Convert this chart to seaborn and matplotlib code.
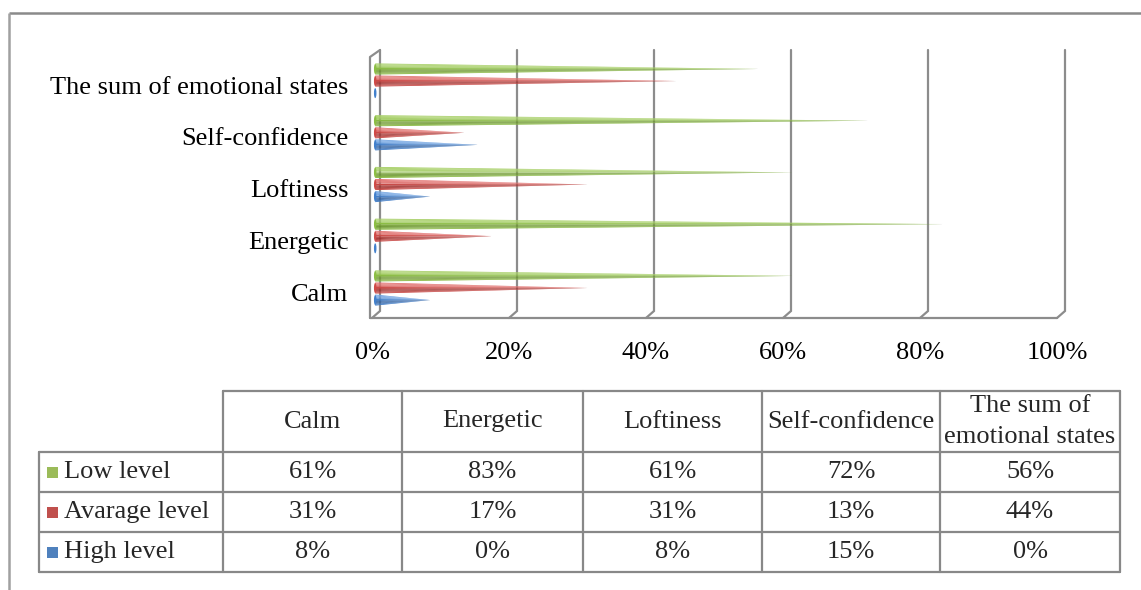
import textwrap

import matplotlib
matplotlib.use("Agg")
import matplotlib.pyplot as plt
import numpy as np
import pandas as pd
import seaborn as sns
from matplotlib.patches import Ellipse, Polygon, Rectangle

# ---- data -------------------------------------------------------------
categories = ["Calm", "Energetic", "Loftiness", "Self-confidence",
              "The sum of emotional states"]
levels = ["Low level", "Avarage level", "High level"]
low_level = [61, 83, 61, 72, 56]
average_level = [31, 17, 31, 13, 44]
high_level = [8, 0, 8, 15, 0]
x_ticks = [0, 20, 40, 60, 80, 100]

colors = {"Low level": "#9BBB59", "Avarage level": "#C0504D", "High level": "#4F81BD"}
cone_base = {"Low level": "#8CBE44", "Avarage level": "#CF4A47", "High level": "#4280CC"}
cone_light = {"Low level": "#A8D068", "Avarage level": "#E27270", "High level": "#6FA3E2"}
cone_dark = {"Low level": "#68922C", "Avarage level": "#9C2C2A", "High level": "#2A5A9A"}

series = {"Low level": low_level, "Avarage level": average_level, "High level": high_level}
df = pd.DataFrame(
    [(cat, lvl, series[lvl][i]) for lvl in levels for i, cat in enumerate(categories)],
    columns=["state", "level", "pct"],
)
df["share"] = df["pct"] / 100.0

# ---- style ------------------------------------------------------------
sns.set_theme(style="white")
plt.rcParams["font.family"] = ["Liberation Serif", "DejaVu Serif"]
FS = 19.0
GRID = "#8c8c8c"

W, H, DPI = 1141, 590, 100
fig = plt.figure(figsize=(W / DPI, H / DPI), dpi=DPI)
fig.patch.set_facecolor("white")

# chart area (pixel frame 370..1068 x 50..318)
ax = fig.add_axes([370 / W, 1 - 318 / H, 698 / W, 268 / H])
ax.set_facecolor("none")

sns.barplot(data=df, x="share", y="state", hue="level",
            order=categories[::-1], hue_order=levels,
            palette=colors, saturation=1, width=0.7, orient="h",
            legend=False, ax=ax)

x_lo, x_hi = -10 / 685, 688 / 685
y_top, y_bot = -0.60, 4.58
ax.set_xlim(x_lo, x_hi)
ax.set_ylim(y_bot, y_top)

# depth offset of the 3-D floor / front plane
dx, dy = -8 / 685, 7 / 51.75
y_back = y_bot - dy

# turn each bar into a shaded cone lying on its side
shade = [(0.00, "light"), (0.25, "light"), (0.45, "base"),
         (0.72, "dark"), (1.00, "base")]


def mix(c1, c2, t):
    a = np.array(matplotlib.colors.to_rgb(c1))
    b = np.array(matplotlib.colors.to_rgb(c2))
    return tuple(a + (b - a) * t)


def shade_color(lvl, t):
    pal = {"light": cone_light[lvl], "base": cone_base[lvl], "dark": cone_dark[lvl]}
    for (t0, k0), (t1, k1) in zip(shade[:-1], shade[1:]):
        if t0 <= t <= t1:
            return mix(pal[k0], pal[k1], (t - t0) / (t1 - t0 + 1e-9))
    return pal["base"]


def nearest_level(rgb):
    rgb = np.array(matplotlib.colors.to_rgb(rgb))
    return min(levels, key=lambda k: np.sum((np.array(matplotlib.colors.to_rgb(colors[k])) - rgb) ** 2))


bars = list(ax.patches)
for bar in bars:
    lvl = nearest_level(bar.get_facecolor())
    # cones sit half-way into the depth of the chart
    x0, w = bar.get_x() + dx * 0.6, bar.get_width()
    yc = bar.get_y() + bar.get_height() / 2
    h = bar.get_height() * 0.92
    bar.remove()
    n = 12
    edges = np.linspace(yc - h / 2, yc + h / 2, n + 1)
    for k in range(n):
        t = (k + 0.5) / n
        ax.add_patch(Polygon([(x0, edges[k]), (x0, edges[k + 1]), (x0 + w, yc)],
                             closed=True, facecolor=shade_color(lvl, t),
                             edgecolor="none", zorder=3))
    ax.add_patch(Ellipse((x0, yc), 2.5 / 685, h * 0.9, facecolor=cone_base[lvl],
                         edgecolor="none", zorder=4))

# 3-D style walls and grid
for v in x_ticks:
    xv = v / 100
    ax.plot([xv, xv, xv + dx], [y_top, y_back, y_bot], color=GRID, lw=1.6,
            clip_on=False, zorder=2, solid_joinstyle="miter")
ax.plot([x_lo, 1 + dx], [y_bot, y_bot], color=GRID, lw=1.6, clip_on=False, zorder=2)
ax.plot([x_lo, x_lo, 0], [y_bot, y_top + dy, y_top], color=GRID, lw=1.6,
        clip_on=False, zorder=2)

for s in ax.spines.values():
    s.set_visible(False)
ax.set_xlabel("")
ax.set_ylabel("")
ax.set_xticks([v / 100 + dx for v in x_ticks], [f"{v}%" for v in x_ticks], fontsize=FS)
ax.set_yticks(np.arange(len(categories)) + 0.08, categories[::-1], fontsize=FS)
ax.tick_params(axis="x", length=0, pad=17, colors="black")
ax.tick_params(axis="y", length=0, pad=15.5, colors="black")

# ---- data table ---------------------------------------------------------
tax = fig.add_axes([0, 0, 1, 1])
tax.set_xlim(0, W)
tax.set_ylim(H, 0)
tax.axis("off")
tax.set_zorder(-1)

col_edges = [39, 223, 402, 583, 762, 940, 1120]
row_edges = [391, 452, 492, 532, 572]
TL = "#888888"
tax.plot([col_edges[1], col_edges[-1]], [row_edges[0]] * 2, color=TL, lw=1.6)
for y in row_edges[1:]:
    tax.plot([col_edges[0], col_edges[-1]], [y, y], color=TL, lw=1.6)
tax.plot([col_edges[0]] * 2, [row_edges[1], row_edges[-1]], color=TL, lw=1.6)
for x in col_edges[1:]:
    tax.plot([x, x], [row_edges[0], row_edges[-1]], color=TL, lw=1.6)

for j, cat in enumerate(categories):
    xc = (col_edges[j + 1] + col_edges[j + 2]) / 2
    yc = (row_edges[0] + row_edges[1]) / 2
    tax.text(xc, yc, textwrap.fill(cat, 16), ha="center", va="center",
             fontsize=FS, linespacing=1.5)

for i, lvl in enumerate(levels):
    yc = (row_edges[i + 1] + row_edges[i + 2]) / 2
    tax.add_patch(Rectangle((47, yc - 5.5), 11, 11, facecolor=colors[lvl],
                            edgecolor="none"))
    tax.text(64, yc, lvl, ha="left", va="center", fontsize=FS)
    for j, v in enumerate(series[lvl]):
        xc = (col_edges[j + 1] + col_edges[j + 2]) / 2
        tax.text(xc, yc, f"{v}%", ha="center", va="center", fontsize=FS)

# outer frame
tax.plot([8.5, W], [13, 13], color="#8a8a8a", lw=1.8, solid_capstyle="butt")
tax.plot([8.5, 8.5], [13, H], color="#a0a0a0", lw=1.8, solid_capstyle="butt")

fig.savefig("out.png", dpi=DPI, facecolor="white")
